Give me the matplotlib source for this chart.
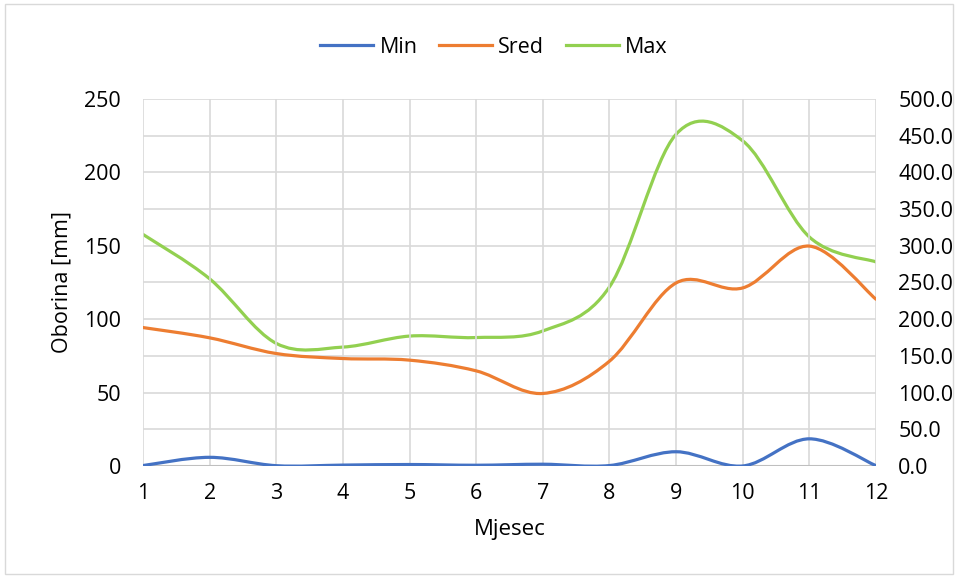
import numpy as np
import matplotlib
matplotlib.use('Agg')
import matplotlib.pyplot as plt
from matplotlib.path import Path
from matplotlib.patches import PathPatch, Rectangle
from matplotlib.lines import Line2D

# monthly precipitation data
months = [1, 2, 3, 4, 5, 6, 7, 8, 9, 10, 11, 12]
min_vals = [0.3, 5.9, 0.2, 0.6, 1.0, 0.5, 1.2, 0.3, 9.7, 0.0, 18.5, 0.2]
sred_vals = [94.3, 87.3, 76.6, 73.2, 72.1, 64.8, 49.4, 71.4, 124.7, 121.3, 149.8, 113.6]
max_vals = [315.5, 255.0, 167.0, 162.0, 177.0, 175.0, 184.0, 244.0, 452.0, 443.0, 312.0, 278.0]

left_ticks = [0, 50, 100, 150, 200, 250]
right_ticks = [0, 50, 100, 150, 200, 250, 300, 350, 400, 450, 500]

plt.rcParams['font.family'] = ['Open Sans', 'DejaVu Sans']
FS = 15.5


def smooth_path(xs, ys):
    # Excel style smoothed line: cubic bezier through each point
    xs = np.asarray(xs, dtype=float)
    ys = np.asarray(ys, dtype=float)
    n = len(xs)
    verts = [(xs[0], ys[0])]
    codes = [Path.MOVETO]
    for i in range(n - 1):
        i0 = max(i - 1, 0)
        i3 = min(i + 2, n - 1)
        c1 = (xs[i] + (xs[i + 1] - xs[i0]) / 6, ys[i] + (ys[i + 1] - ys[i0]) / 6)
        c2 = (xs[i + 1] - (xs[i3] - xs[i]) / 6, ys[i + 1] - (ys[i3] - ys[i]) / 6)
        verts += [c1, c2, (xs[i + 1], ys[i + 1])]
        codes += [Path.CURVE4] * 3
    return Path(verts, codes)


def add_line(ax, xs, ys, color):
    patch = PathPatch(smooth_path(xs, ys), facecolor='none', edgecolor=color,
                      lw=2.3, capstyle='round', joinstyle='round', zorder=3)
    ax.add_patch(patch)


fig = plt.figure(figsize=(9.58, 5.79), dpi=100)
fig.patches.append(Rectangle((0.005, 0.008), 0.99, 0.985, transform=fig.transFigure,
                             fill=False, edgecolor='#d9d9d9', lw=1))

ax = fig.add_axes([0.1493, 0.1952, 0.7651, 0.6338])
ax2 = ax.twinx()

blue = '#4472C4'
orange = '#ED7D31'
green = '#92D050'

add_line(ax, months, min_vals, blue)
add_line(ax, months, sred_vals, orange)
add_line(ax2, months, max_vals, green)

ax.set_xlim(1, 12)
ax.set_ylim(0, 250)
ax2.set_ylim(0, 500)
ax.set_xticks(months)
ax.set_yticks(left_ticks)
ax2.set_yticks(right_ticks)
ax2.set_yticklabels(['%.1f' % v for v in right_ticks])

# grid: vertical from months, horizontal from secondary axis
ax.grid(axis='x', color='#d9d9d9', lw=1.2)
ax2.grid(axis='y', color='#d9d9d9', lw=1.2)
ax.set_axisbelow(True)
ax2.set_axisbelow(True)
ax.set_zorder(ax2.get_zorder() + 1)
ax.patch.set_visible(False)

for a in (ax, ax2):
    for s in ['top', 'left', 'right', 'bottom']:
        a.spines[s].set_visible(False)
    a.tick_params(length=0, labelsize=FS, colors='black')

ax.axhline(0, color='#bfbfbf', lw=1.5, zorder=2)

ax.tick_params(axis='x', pad=12)
ax.tick_params(axis='y', pad=16)
ax2.tick_params(axis='y', pad=16)

ax.set_ylabel('Oborina [mm]', fontsize=FS, labelpad=8)
ax.set_xlabel('Mjesec', fontsize=16, labelpad=11)

handles = [Line2D([], [], color=blue, lw=2.3),
           Line2D([], [], color=orange, lw=2.3),
           Line2D([], [], color=green, lw=2.3)]
fig.legend(handles, ['Min', 'Sred', 'Max'], loc='center', bbox_to_anchor=(0.5157, 0.918),
           ncol=3, frameon=False, fontsize=FS, handlelength=2.45,
           handletextpad=0.3, columnspacing=1.0)

fig.savefig('out.png', dpi=100)
